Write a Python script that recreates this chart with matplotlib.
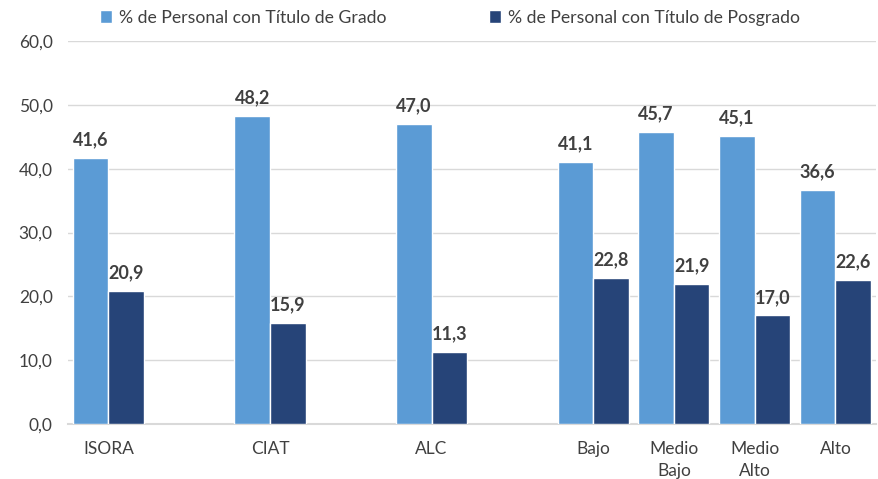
import matplotlib.pyplot as plt
import numpy as np

plt.rcParams['font.family'] = ['Lato', 'DejaVu Sans']

# data (empty slots keep the gaps between groups)
categories = ['ISORA', '', 'CIAT', '', 'ALC', '', 'Bajo', 'Medio\nBajo', 'Medio\nAlto', 'Alto']
grado = [41.6, np.nan, 48.2, np.nan, 47.0, np.nan, 41.1, 45.7, 45.1, 36.6]
posgrado = [20.9, np.nan, 15.9, np.nan, 11.3, np.nan, 22.8, 21.9, 17.0, 22.6]
series_names = ['% de Personal con Título de Grado', '% de Personal con Título de Posgrado']

c_light = '#5B9BD5'
c_dark = '#264478'
txt = '#404040'

fig = plt.figure(figsize=(8.79, 4.79), dpi=100)
ax = fig.add_axes([0.0774, 0.1148, 0.919, 0.7996])

x = np.arange(len(categories))
w = 0.44
b1 = ax.bar(x - w/2, grado, w, color=c_light, edgecolor='white', linewidth=1, label=series_names[0], zorder=3)
b2 = ax.bar(x + w/2, posgrado, w, color=c_dark, edgecolor='white', linewidth=1, label=series_names[1], zorder=3)

for bars, vals in [(b1, grado), (b2, posgrado)]:
    for bar, v in zip(bars, vals):
        if np.isnan(v):
            continue
        ax.annotate(f"{v:.1f}".replace('.', ','), (bar.get_x() + bar.get_width()/2, v),
                    xytext=(0, 7), textcoords='offset points', ha='center', va='bottom',
                    fontsize=13, weight='bold', color=txt)

ax.set_xlim(-0.5, 9.5)
ax.set_ylim(0, 60)
ax.set_yticks(np.arange(0, 61, 10))
ax.set_yticklabels([f"{t:.1f}".replace('.', ',') for t in np.arange(0, 61, 10)])
ax.set_xticks(x)
ax.set_xticklabels(categories, linespacing=1.45)
ax.tick_params(axis='both', length=0, colors=txt)
ax.tick_params(axis='y', labelsize=12.5, pad=11)
ax.tick_params(axis='x', labelsize=12.5, pad=12.5)

ax.grid(axis='y', color='#d9d9d9', linewidth=1, zorder=0)
for s in ['top', 'right', 'left']:
    ax.spines[s].set_visible(False)
ax.spines['bottom'].set_color('#d9d9d9')
ax.spines['bottom'].set_linewidth(1.5)

fig.legend(loc='center', bbox_to_anchor=(0.512, 0.963), ncol=2, frameon=False,
           fontsize=12.7, handlelength=0.7, handleheight=0.7, handletextpad=0.4,
           columnspacing=5.8, labelcolor=txt)

plt.savefig('out.png', dpi=100)
